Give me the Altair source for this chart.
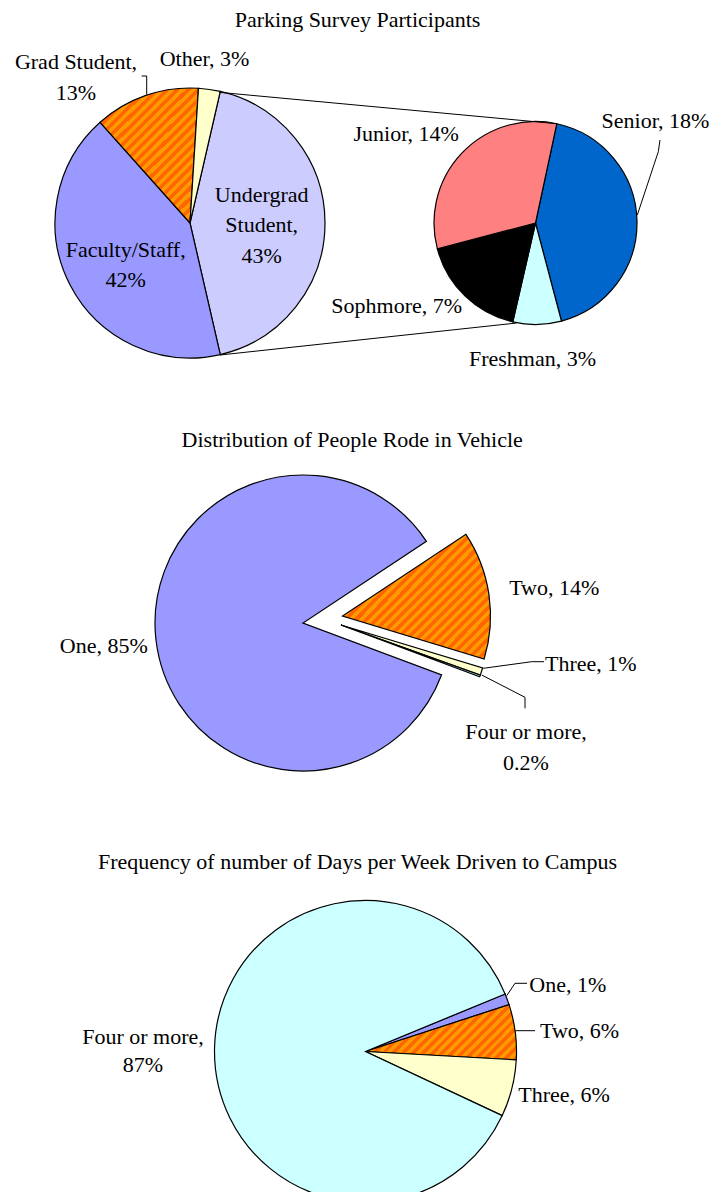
import math
import textwrap
import altair as alt
import pandas as pd

# ---------------- data ----------------
titles = ["Parking Survey Participants",
          "Distribution of People Rode in Vehicle",
          "Frequency of number of Days per Week Driven to Campus"]

participant_cats = ["Undergrad Student", "Faculty/Staff", "Grad Student", "Other"]
participant_pct = [42.8, 42.0, 12.6, 2.6]

undergrad_cats = ["Senior", "Freshman", "Sophmore", "Junior"]
undergrad_pct = [18.2, 3.3, 7.4, 13.9]

riders_cats = ["One", "Two", "Three", "Four or more"]
riders_pct = [85.0, 14.0, 0.8, 0.2]

days_cats = ["One", "Two", "Three", "Four or more"]
days_pct = [1.2, 5.9, 6.1, 86.8]

# ---------------- styles ----------------
participant_colors = ["#CCCCFF", "#9999FF", "#FF9900", "#FFFFCC"]
undergrad_colors = ["#0066CC", "#CCFFFF", "#000000", "#FF8080"]
riders_colors = ["#9999FF", "#FF9900", "#FFFFCC", "#CCFFFF"]
days_colors = ["#9999FF", "#FF9900", "#FFFFCC", "#CCFFFF"]
FONT = "Liberation Serif"
FS = 22
OFF = 8  # page margin: reference pixel -> chart pixel


def stripes(w, h, period=7.0, base="#FF9900", line="#FF6600"):
    """Diagonal '/' stripe fill as a hard-stop linear gradient over a w x h box."""
    k = (w + h) / (w * w + h * h)
    n = int(round((w + h) / (math.sqrt(2) * period)))
    stops = []
    for i in range(n):
        a, b, c = i / n, (i + 0.5) / n, (i + 1) / n
        stops += [{"offset": a, "color": base}, {"offset": b, "color": base},
                  {"offset": b, "color": line}, {"offset": c, "color": line}]
    return {"gradient": "linear", "x1": 0, "y1": 0, "x2": w * k, "y2": h * k,
            "stops": stops}


def frame(cats, vals):
    return pd.DataFrame({"cat": cats, "value": vals, "order": list(range(len(cats)))})


def pie(cats, vals, colors, cx, cy, r, start_deg, show=None, striped=None, grad=None):
    t0 = math.radians(start_deg)
    base = (alt.Chart(frame(cats, vals))
            .transform_joinaggregate(total="sum(value)")
            .transform_window(cum="sum(value)", sort=[alt.SortField("order")], frame=[None, 0])
            .transform_calculate(t0="(datum.cum - datum.value) / datum.total",
                                 t1="datum.cum / datum.total"))
    if show is not None:
        base = base.transform_filter(alt.FieldOneOfPredicate(field="cat", oneOf=show))
    fill = alt.Fill("cat:N", scale=alt.Scale(domain=cats, range=colors), legend=None)
    if striped is not None:
        fill = alt.condition(alt.datum.cat == striped, alt.value(grad), fill)
    return base.mark_arc(radius=r, stroke="black", strokeWidth=1.2).encode(
        theta=alt.Theta("t0:Q", scale=alt.Scale(domain=[0, 1], range=[t0, t0 + 2 * math.pi])),
        theta2="t1:Q",
        fill=fill,
        x=alt.value(cx - OFF),
        y=alt.value(cy - OFF),
    )


def pct_label(v):
    return f"{v:.0f}%" if v >= 0.5 else f"{v:.1f}%"


# ---------------- layout (reference pixels) ----------------
P1 = (190, 223, 135)
P1B = (535.5, 223, 101.5)
P2 = (303, 623, 148)
P3 = (365.5, 1051.5, 151)
p1_start = 90 - 180 * participant_pct[0] / sum(participant_pct)
p1b_start = 12.1
p2_start = 110.5
p3_start = 67.6
two_shift = (39.5, -7)
thin_shift = (38, 2)

label_layout = [
    # series, category, x, baseline y, align, wrap width, line height
    (participant_cats, participant_pct, "Grad Student", 76, 68.5, "center", 13, 31.5),
    (participant_cats, participant_pct, "Other", 204.5, 65.5, "center", None, 0),
    (participant_cats, participant_pct, "Undergrad Student", 261.7, 201.7, "center", 10, 30.5),
    (participant_cats, participant_pct, "Faculty/Staff", 125.7, 256.7, "center", 14, 30),
    (undergrad_cats, undergrad_pct, "Junior", 406.2, 140.7, "center", None, 0),
    (undergrad_cats, undergrad_pct, "Senior", 655.5, 127.7, "center", None, 0),
    (undergrad_cats, undergrad_pct, "Sophmore", 396.7, 313.3, "center", None, 0),
    (undergrad_cats, undergrad_pct, "Freshman", 532.5, 366, "center", None, 0),
    (riders_cats, riders_pct, "One", 103.8, 653.3, "center", None, 0),
    (riders_cats, riders_pct, "Two", 554.2, 595, "center", None, 0),
    (riders_cats, riders_pct, "Three", 545, 670.7, "left", None, 0),
    (riders_cats, riders_pct, "Four or more", 526, 739.3, "center", 13, 30.7),
    (days_cats, days_pct, "Four or more", 143, 1044.3, "center", 13, 28),
    (days_cats, days_pct, "One", 529.3, 991.7, "left", None, 0),
    (days_cats, days_pct, "Two", 540, 1038.3, "left", None, 0),
    (days_cats, days_pct, "Three", 518.3, 1101.7, "left", None, 0),
]
title_layout = [(357.5, 26.5), (352.2, 446.7), (357.5, 868.7)]

segments = [
    (219, 92.3, 556.7, 123.7), (220, 355, 516.7, 323),          # pie-of-pie connectors
    (141.7, 76, 146.7, 76), (146.7, 76, 146.7, 94.5),          # Grad Student leader
    (660, 140, 658.3, 151.7), (658.3, 151.7, 637.3, 215),      # Senior leader
    (483.3, 668.3, 531.7, 661.7), (531.7, 661.7, 544, 661.7),  # Three leader
    (481.7, 675, 525, 697.3), (525, 697.3, 525, 708.3),        # Four or more leader
    (506.7, 995.7, 515, 983.3), (515, 983.3, 527, 983.3),      # One leader
    (515.3, 1030.7, 535, 1030.7),                              # Two leader
]

# ---------------- tables for annotations ----------------
rows = []
for cats, vals, cat, x, y, align, wrap, lh in label_layout:
    text = f"{cat}, {pct_label(vals[cats.index(cat)])}"
    lines = textwrap.wrap(text, wrap) if wrap else [text]
    for i, line in enumerate(lines):
        rows.append({"text": line, "x": x - OFF, "y": y + i * lh - OFF, "align": align})
for t, (x, y) in zip(titles, title_layout):
    rows.append({"text": t, "x": x - OFF, "y": y - OFF, "align": "center"})
labels = pd.DataFrame(rows)
seg_df = pd.DataFrame([{"x1": a - OFF, "y1": b - OFF, "x2": c - OFF, "y2": d - OFF}
                       for a, b, c, d in segments])


def text_layer(align):
    return alt.Chart(labels).transform_filter(alt.datum.align == align).mark_text(
        font=FONT, fontSize=FS, color="black", baseline="alphabetic", align=align
    ).encode(x=alt.X("x:Q", scale=None, axis=None),
             y=alt.Y("y:Q", scale=None, axis=None),
             text="text:N")


rules = alt.Chart(seg_df).mark_rule(color="black", strokeWidth=1).encode(
    x=alt.X("x1:Q", scale=None, axis=None), y=alt.Y("y1:Q", scale=None, axis=None),
    x2="x2:Q", y2="y2:Q")

layers = [
    pie(participant_cats, participant_pct, participant_colors, *P1, p1_start,
        striped="Grad Student", grad=stripes(97, 135)),
    pie(undergrad_cats, undergrad_pct, undergrad_colors, *P1B, p1b_start),
    pie(riders_cats, riders_pct, riders_colors, P2[0], P2[1], P2[2], p2_start, show=["One"]),
    pie(riders_cats, riders_pct, riders_colors, P2[0] + two_shift[0], P2[1] + two_shift[1], P2[2],
        p2_start, show=["Two"], striped="Two", grad=stripes(148, 124)),
    pie(riders_cats, riders_pct, riders_colors, P2[0] + thin_shift[0], P2[1] + thin_shift[1], P2[2],
        p2_start, show=["Three", "Four or more"]),
    pie(days_cats, days_pct, days_colors, *P3, p3_start, striped="Two", grad=stripes(151, 55)),
    rules,
    text_layer("center"),
    text_layer("left"),
]

chart = alt.layer(*layers).resolve_scale(theta="independent", fill="independent").properties(
    width=701, height=1184, padding=0, autosize=alt.AutoSizeParams(type="none")
).configure_view(stroke=None)

chart.save("out.html", embed_options={"renderer": "svg", "actions": False})
